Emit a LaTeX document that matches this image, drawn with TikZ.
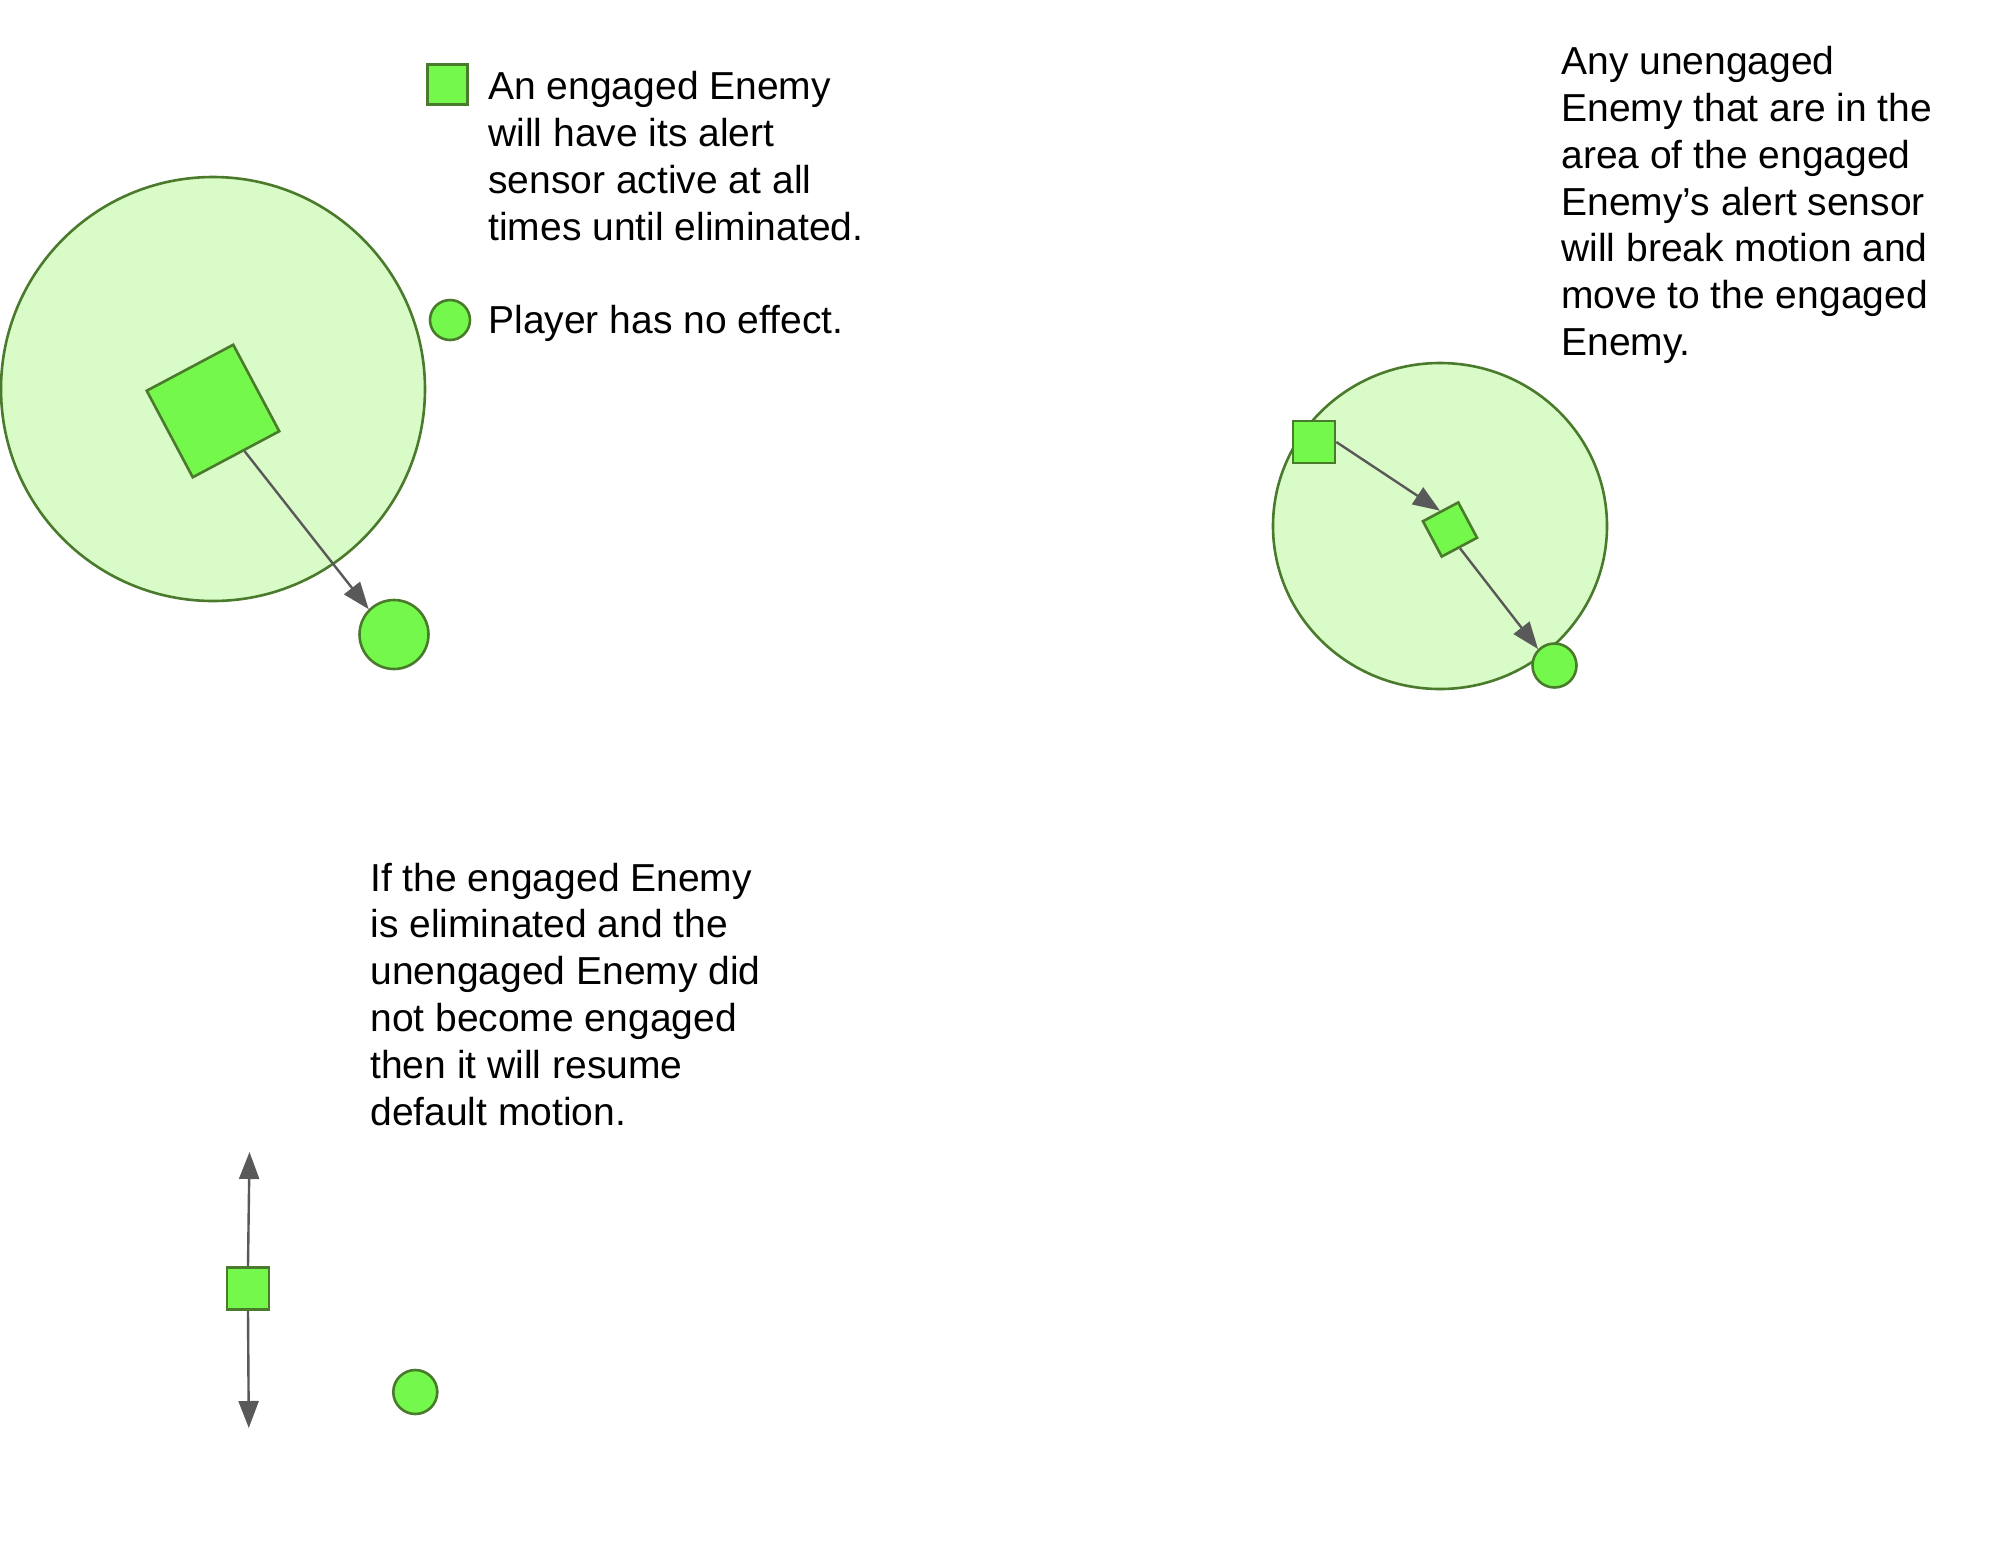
\documentclass[tikz,border=0pt]{standalone}
\usepackage{fontspec}
\setmainfont{Liberation Sans}
\usetikzlibrary{arrows.meta,shapes.geometric}
\definecolor{rangefill}{HTML}{D9FBC8}
\definecolor{bodyfill}{HTML}{75F84C}
\definecolor{bodyline}{HTML}{4A7A2B}
\definecolor{moveline}{HTML}{595959}
\tikzset{
enemy/.style={rectangle,draw=bodyline,fill=bodyfill,line width=1.3pt,inner sep=0pt,minimum size=#1},
player/.style={circle,draw=bodyline,fill=bodyfill,line width=1.3pt,inner sep=0pt,minimum size=#1},
sensorzone/.style={ellipse,draw=bodyline,fill=rangefill,line width=1.3pt,inner sep=0pt},
motion/.style={draw=moveline,line width=1.2pt,-{Triangle[length=13.5pt,width=10pt]}},
notetext/.style={align=left,anchor=north west,inner sep=0pt,font=\fontsize{19.5}{23.4}\selectfont}
}
\begin{document}
\begin{tikzpicture}[x=0.5pt,y=-0.5pt]
\useasboundingbox (0,0) rectangle (1999,1548);
\node[sensorzone,minimum width=212pt,minimum height=212pt] (zoneA) at (213,389) {};
\node[enemy=49pt,rotate=28] (engA) at (213,411) {};
\node[player=34.5pt] (plA) at (394,634.5) {};
\draw[motion] (engA) -- (plA.north west);
\node[enemy=20pt] (keyEnemy) at (447.5,84.5) {};
\node[player=20pt] (keyPlayer) at (450,320) {};
\node[notetext] (txtEngaged) at (488,71) {An engaged Enemy\\will have its alert\\sensor active at all\\times until eliminated.};
\node[notetext] (txtPlayer) at (488,304.5) {Player has no effect.};
\node[sensorzone,minimum width=167pt,minimum height=163pt] (zoneB) at (1440,526) {};
\node[enemy=21pt] (unengB) at (1314,442) {};
\node[enemy=20pt,rotate=28] (engB) at (1450,529.5) {};
\node[player=22pt] (plB) at (1554.5,665.5) {};
\draw[motion] (unengB.east) -- (engB.north);
\draw[motion] (engB.south) -- (plB.north west);
\node[notetext] (txtArea) at (1561,46) {Any unengaged\\Enemy that are in the\\area of the engaged\\Enemy’s alert sensor\\will break motion and\\move to the engaged\\Enemy.};
\node[notetext] (txtResume) at (370,862.5) {If the engaged Enemy\\is eliminated and the\\unengaged Enemy did\\not become engaged\\then it will resume\\default motion.};
\node[enemy=21pt] (unengC) at (248,1288.5) {};
\node[player=22pt] (plC) at (415.3,1392) {};
\coordinate (upC) at (249.5,1152);
\coordinate (downC) at (248.8,1428);
\draw[motion] (unengC.north) -- (upC);
\draw[motion] (unengC.south) -- (downC);
\end{tikzpicture}
\end{document}
